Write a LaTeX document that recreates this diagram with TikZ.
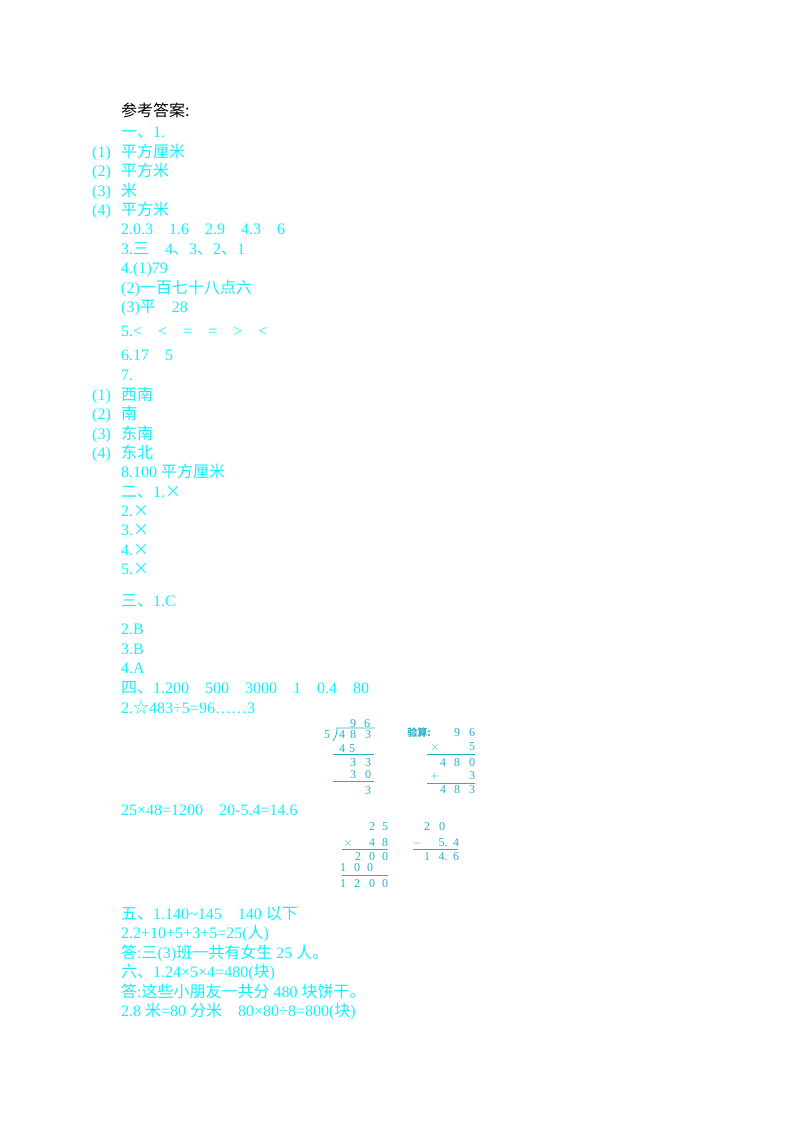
\documentclass[tikz,border=0pt]{standalone}
\usepackage{fontspec}
\setmainfont{Liberation Serif}
\newfontfamily\cjk{Noto Sans CJK SC}
\definecolor{ans}{RGB}{20,240,250}
\definecolor{calc}{RGB}{40,175,200}
\newcommand{\zh}[1]{{\cjk #1}}
\begin{document}
\begin{tikzpicture}[x=1pt,y=-1pt,
  t/.style={anchor=base west,inner sep=0pt,font=\fontsize{16}{16}\selectfont,text=ans},
  c/.style={anchor=base,inner sep=0pt,font=\fontsize{12}{12}\selectfont,text=calc},
  cl/.style={draw=calc,line width=0.8pt}]
\useasboundingbox (0,0) rectangle (800,1132);
\node[t,text=black] (h) at (121,116) {\zh{参考答案:}};
\node[t] (l1) at (121,137) {\zh{一、}1.};
\node[t] (p1) at (92,157) {(1)}; \node[t] (a1) at (121,157) {\zh{平方厘米}};
\node[t] (p2) at (92,176) {(2)}; \node[t] (a2) at (121,176) {\zh{平方米}};
\node[t] (p3) at (92,196) {(3)}; \node[t] (a3) at (121,196) {\zh{米}};
\node[t] (p4) at (92,215) {(4)}; \node[t] (a4) at (121,215) {\zh{平方米}};
\node[t] (l2) at (121,234) {2.0.3\quad 1.6\quad 2.9\quad 4.3\quad 6};
\node[t] (l3) at (121,254) {3.\zh{三}\quad 4\zh{、}3\zh{、}2\zh{、}1};
\node[t] (l4) at (121,273) {4.(1)79};
\node[t] (l5) at (121,293) {(2)\zh{一百七十八点六}};
\node[t] (l6) at (121,312) {(3)\zh{平}\quad 28};
\node[t] (l7) at (121,336) {5.<\quad <\quad =\quad =\quad >\quad <};
\node[t] (l8) at (121,360) {6.17\quad 5};
\node[t] (l9) at (121,380) {7.};
\node[t] (q1) at (92,400) {(1)}; \node[t] (b1) at (121,400) {\zh{西南}};
\node[t] (q2) at (92,419) {(2)}; \node[t] (b2) at (121,419) {\zh{南}};
\node[t] (q3) at (92,439) {(3)}; \node[t] (b3) at (121,439) {\zh{东南}};
\node[t] (q4) at (92,458) {(4)}; \node[t] (b4) at (121,458) {\zh{东北}};
\node[t] (m1) at (121,477) {8.100 \zh{平方厘米}};
\node[t] (m2) at (121,497) {\zh{二、}1.\zh{×}};
\node[t] (m3) at (121,516) {2.\zh{×}};
\node[t] (m4) at (121,535) {3.\zh{×}};
\node[t] (m5) at (121,555) {4.\zh{×}};
\node[t] (m6) at (121,574) {5.\zh{×}};
\node[t] (n1) at (121,606) {\zh{三、}1.C};
\node[t] (n2) at (121,634) {2.B};
\node[t] (n3) at (121,654) {3.B};
\node[t] (n4) at (121,673) {4.A};
\node[t] (n5) at (121,693) {\zh{四、}1.200\quad 500\quad 3000\quad 1\quad 0.4\quad 80};
\node[t] (n6) at (121,713) {2.\zh{☆}483÷5=96……3};
\node[t] (n7) at (121,815) {25×48=1200\quad 20-5.4=14.6};
\node[t] (r1) at (121,919) {\zh{五、}1.140\textasciitilde145\quad 140 \zh{以下}};
\node[t] (r2) at (121,938) {2.2+10+5+3+5=25(\zh{人})};
\node[t] (r3) at (121,958) {\zh{答}:\zh{三}(3)\zh{班一共有女生} 25 \zh{人。}};
\node[t] (r4) at (121,977) {\zh{六、}1.24×5×4=480(\zh{块})};
\node[t] (r5) at (121,997) {\zh{答}:\zh{这些小朋友一共分} 480 \zh{块饼干。}};
\node[t] (r6) at (121,1016) {2.8 \zh{米}=80 \zh{分米}\quad 80×80÷8=800(\zh{块})};
% division
\foreach \n/\x/\y in {9/353/727,6/367/727,5/327/738,4/342/738,8/353/738,3/368/738,
  4/342/752,5/352/752,3/353/766,3/368/766,3/353/778,0/368/778,3/368/794}
  \node[c] at (\x,\y) {\n};
\draw[cl] (333,741) .. controls (336,737) and (337,733) .. (337,728) -- (375,728);
\draw[cl] (333,754) -- (374,754);
\draw[cl] (333,781) -- (374,781);
% check
\node[c,font=\fontsize{10}{10}\selectfont\cjk\bfseries] (yz) at (419,736) {验算:};
\foreach \n/\x/\y in {9/457/736,6/472/736,$\times$/435/750,5/472/750,4/443/766,8/457/766,0/472/766,
  $+$/435/779,3/472/779,4/443/793,8/457/793,3/472/793}
  \node[c] at (\x,\y) {\n};
\draw[cl] (427,754) -- (475,754);
\draw[cl] (427,783) -- (475,783);
% multiplication
\foreach \n/\x/\y in {2/372/830,5/385/830,$\times$/348/846,4/372/846,8/385/846,2/358/860,0/372/860,0/385/860,
  1/343/871,0/357/871,0/370/871,1/343/887,2/357/887,0/372/887,0/385/887}
  \node[c] at (\x,\y) {\n};
\draw[cl] (342,849) -- (388,849);
\draw[cl] (342,875) -- (388,875);
% subtraction
\foreach \n/\x/\y in {2/427/830,0/442/830,$-$/417/846,5./443/846,4/456/846,1/427/860,4./443/860,6/456/860}
  \node[c] at (\x,\y) {\n};
\draw[cl] (413,849) -- (458,849);
\end{tikzpicture}
\end{document}
